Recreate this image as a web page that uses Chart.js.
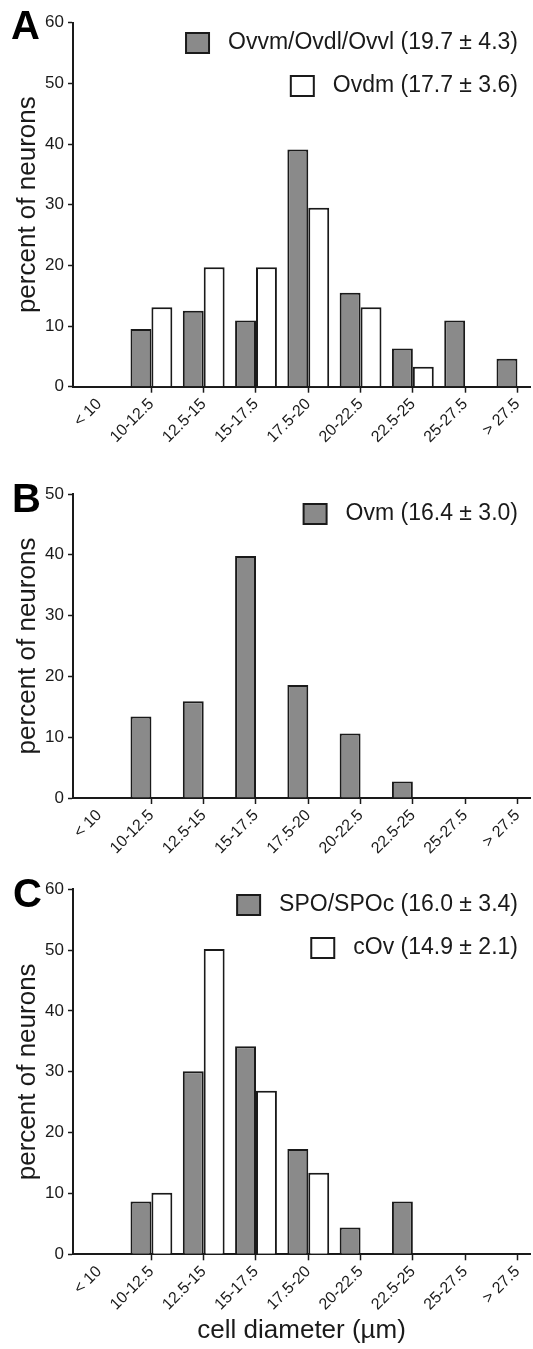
<!DOCTYPE html>
<html>
<head>
<meta charset="utf-8">
<script src="https://cdn.jsdelivr.net/npm/chart.js@4.4.1/dist/chart.umd.min.js"></script>
<style>
  html, body { margin: 0; padding: 0; background: #fff; width: 533px; height: 1349px; overflow: hidden; }
  canvas { position: absolute; left: 0; }
  .letter { position: absolute; font-family: 'Liberation Sans', Arial, sans-serif; font-weight: bold;
            font-size: 40px; line-height: 1; color: #000; }
</style>
</head>
<body>
<canvas id="chartA" width="533" height="450" style="top:0px"></canvas>
<canvas id="chartB" width="533" height="410" style="top:455px"></canvas>
<canvas id="chartC" width="533" height="504" style="top:845px"></canvas>
<div class="letter" id="letterA" style="left:11px;top:5px"></div>
<div class="letter" id="letterB" style="left:12px;top:478px"></div>
<div class="letter" id="letterC" style="left:13px;top:873px"></div>
<script>
// ---------------- data ----------------
const categories = ['< 10', '10-12.5', '12.5-15', '15-17.5', '17.5-20', '20-22.5', '22.5-25', '25-27.5', '> 27.5'];

const ovvmOvdlOvvl = [0, 9.5, 12.5, 10.9, 39.1, 15.5, 6.3, 10.9, 4.6];
const ovdm         = [0, 13.1, 19.7, 19.7, 29.5, 13.1, 3.3, 0, 0];
const ovm          = [0, 13.4, 15.9, 39.8, 18.6, 10.6, 2.7, 0, 0];
const ovmPartner   = [null, null, null, null, null, null, null, null, null]; // panel B has no second group
const spoSpoc      = [0, 8.7, 30.1, 34.2, 17.3, 4.4, 8.7, 0, 0];
const cOv          = [0, 10.1, 50.2, 26.9, 13.4, 0, 0, 0, 0];

const labelOvvm = 'Ovvm/Ovdl/Ovvl (19.7 ± 4.3)';
const labelOvdm = 'Ovdm (17.7 ± 3.6)';
const labelOvm  = 'Ovm (16.4 ± 3.0)';
const labelSpo  = 'SPO/SPOc (16.0 ± 3.4)';
const labelCOv  = 'cOv (14.9 ± 2.1)';

const yTicksA = [0, 10, 20, 30, 40, 50, 60];
const yTicksB = [0, 10, 20, 30, 40, 50];
const yTicksC = [0, 10, 20, 30, 40, 50, 60];

const yAxisTitle = 'percent of neurons';
const xAxisTitle = 'cell diameter (µm)';
const panelLetters = ['A', 'B', 'C'];

// ---------------- style ----------------
const FONT = "'Liberation Sans', Arial, Helvetica, sans-serif";
const INK = '#1a1a1a';
const GRAY = '#8a8a8a';
const WHITE = '#ffffff';

document.getElementById('letterA').textContent = panelLetters[0];
document.getElementById('letterB').textContent = panelLetters[1];
document.getElementById('letterC').textContent = panelLetters[2];

const boxLegend = {
  id: 'boxLegend',
  afterDraw(chart, _args, o) {
    const ctx = chart.ctx;
    ctx.save();
    ctx.font = o.size + 'px ' + FONT;
    ctx.textAlign = 'right';
    ctx.textBaseline = 'middle';
    let row = 0;
    chart.data.datasets.forEach(ds => {
      if (!ds.label) return;
      const y = o.top + row * o.rowGap;
      const w = ctx.measureText(ds.label).width;
      ctx.fillStyle = INK;
      ctx.fillText(ds.label, o.right, y);
      const bx = o.right - w - o.gap - o.boxW;
      ctx.fillStyle = ds.backgroundColor;
      ctx.fillRect(bx, y - o.boxH / 2, o.boxW, o.boxH);
      ctx.lineWidth = 2;
      ctx.strokeStyle = INK;
      ctx.strokeRect(bx, y - o.boxH / 2, o.boxW, o.boxH);
      row++;
    });
    ctx.restore();
  }
};

function makeChart(id, cfg) {
  const canvas = document.getElementById(id);
  return new Chart(canvas, {
    type: 'bar',
    data: {
      datasets: cfg.series.map(s => ({
        label: s.label,
        data: s.values.map((v, i) => ({ x: i, y: v })),
        backgroundColor: s.color,
        borderColor: INK,
        borderWidth: 2,
        borderSkipped: 'start',
        categoryPercentage: 0.8,
        barPercentage: 1.0
      }))
    },
    plugins: [boxLegend],
    options: {
      responsive: false,
      animation: false,
      devicePixelRatio: 1,
      layout: { padding: { top: cfg.plotTop, left: 0, right: 0, bottom: 0 } },
      plugins: {
        legend: { display: false },
        tooltip: { enabled: false },
        boxLegend: { size: 23, right: 518, top: cfg.legendTop, rowGap: 43, gap: 19, boxW: 23, boxH: 20 }
      },
      scales: {
        x: {
          type: 'linear',
          offset: false,
          min: -0.5,
          max: 8.245,
          afterBuildTicks: s => { s.ticks = categories.map((_, i) => ({ value: i })); },
          afterFit: s => { s.height = cfg.xAxisHeight; },
          ticks: {
            autoSkip: false, minRotation: 45, maxRotation: 45, padding: 2,
            color: INK, font: { family: FONT, size: 16 },
            callback: v => categories[v]
          },
          grid: {
            offset: false,
            drawOnChartArea: false, drawTicks: true, tickLength: 6, tickWidth: 1.5,
            tickColor: c => (c.index === 0 ? 'rgba(0,0,0,0)' : INK)
          },
          border: { display: true, color: INK, width: 2 },
          title: cfg.xTitle
            ? { display: true, text: cfg.xTitle, color: INK, font: { family: FONT, size: 26 }, padding: { top: 0, bottom: 3 } }
            : { display: false }
        },
        y: {
          min: 0,
          max: cfg.yTicks[cfg.yTicks.length - 1],
          afterBuildTicks: s => { s.ticks = cfg.yTicks.map(v => ({ value: v })); },
          afterFit: s => { s.width = 73; },
          ticks: { padding: 4, color: INK, font: { family: FONT, size: 17 } },
          grid: { drawOnChartArea: false, drawTicks: true, tickLength: 5, tickWidth: 1.5, tickColor: INK },
          border: { display: true, color: INK, width: 2 },
          title: { display: true, text: yAxisTitle, color: INK, font: { family: FONT, size: 26 }, padding: { top: 12, bottom: 0 } }
        }
      }
    }
  });
}

makeChart('chartA', {
  series: [
    { label: labelOvvm, values: ovvmOvdlOvvl, color: GRAY },
    { label: labelOvdm, values: ovdm, color: WHITE }
  ],
  yTicks: yTicksA, plotTop: 22.7, xAxisHeight: 450 - 386.7, legendTop: 43
});

makeChart('chartB', {
  series: [
    { label: labelOvm, values: ovm, color: GRAY },
    { label: '', values: ovmPartner, color: WHITE }
  ],
  yTicks: yTicksB, plotTop: 39, xAxisHeight: 410 - 343, legendTop: 59
});

makeChart('chartC', {
  series: [
    { label: labelSpo, values: spoSpoc, color: GRAY },
    { label: labelCOv, values: cOv, color: WHITE }
  ],
  yTicks: yTicksC, plotTop: 44.3, xAxisHeight: 504 - 409.3, legendTop: 60, xTitle: xAxisTitle
});
</script>
</body>
</html>
